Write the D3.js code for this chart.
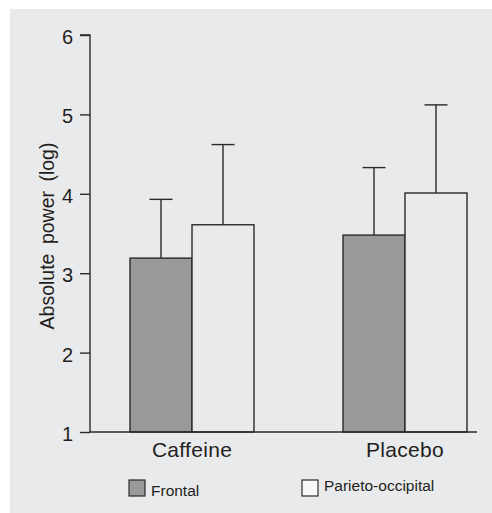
<!DOCTYPE html>
<html>
<head>
<meta charset="utf-8">
<script src="https://cdn.jsdelivr.net/npm/d3@7"></script>
<style>
  html, body { margin: 0; padding: 0; background: #ffffff; }
  svg { display: block; }
  text { font-family: "Liberation Sans", Arial, Helvetica, sans-serif; fill: #231f20; }
</style>
</head>
<body>
<svg id="chart" width="492" height="513"></svg>
<script>
// Groups and series
const categories = ["Caffeine", "Placebo"];
const series = ["Frontal", "Parieto-occipital"];
// Mean absolute power (log) per group, one array per series
const frontalMeans = [3.19, 3.48];
const parietoMeans = [3.61, 4.01];
// Upper whisker length (SD) per group
const frontalSD = [0.74, 0.85];
const parietoSD = [1.01, 1.11];
const yTicks = [1, 2, 3, 4, 5, 6];

const ink = "#2b2a2b";
const panelFill = "#e9eaec";
const fills = { "Frontal": "#98999b", "Parieto-occipital": panelFill };

const rows = categories.map((c, i) => ({
  category: c,
  bars: [
    { series: series[0], value: frontalMeans[i], sd: frontalSD[i] },
    { series: series[1], value: parietoMeans[i], sd: parietoSD[i] }
  ]
}));

const svg = d3.select("#chart");

// panel background
svg.append("rect")
  .attr("x", 10).attr("y", 9)
  .attr("width", 482).attr("height", 504)
  .attr("fill", panelFill);

const axisLeft = 90, axisRight = 477;
const y = d3.scaleLinear().domain([1, 6]).range([432, 35]);
const x0 = d3.scalePoint().domain(categories).range([192, 405]);
const x1 = d3.scaleBand().domain(series).range([-62, 62]).padding(0);

// y axis
const yAxis = d3.axisLeft(y).tickValues(yTicks).tickSize(10).tickPadding(7).tickFormat(d3.format("d"));
const gy = svg.append("g").attr("transform", `translate(${axisLeft},0)`).call(yAxis);
gy.select(".domain").attr("stroke", ink).attr("stroke-width", 1.4).attr("d", `M-10,${y(6)}H0V${y(1)}`);
gy.selectAll(".tick line").attr("stroke", ink).attr("stroke-width", 1.4);
gy.selectAll(".tick text").style("font-size", "20px").attr("fill", ink).attr("dy", "0.42em");

// bars
const groups = svg.append("g").selectAll("g.group")
  .data(rows).join("g")
  .attr("class", "group")
  .attr("transform", d => `translate(${x0(d.category)},0)`);

// whiskers (drawn behind bars so they start at the bar top)
groups.selectAll("g.err").data(d => d.bars).join("g")
  .attr("class", "err")
  .each(function (d) {
    const g = d3.select(this);
    const cx = x1(d.series) + x1.bandwidth() / 2;
    g.append("line")
      .attr("x1", cx).attr("x2", cx)
      .attr("y1", y(d.value)).attr("y2", y(d.value + d.sd))
      .attr("stroke", ink).attr("stroke-width", 1.4);
    g.append("line")
      .attr("x1", cx - 11.5).attr("x2", cx + 11.5)
      .attr("y1", y(d.value + d.sd)).attr("y2", y(d.value + d.sd))
      .attr("stroke", ink).attr("stroke-width", 1.4);
  });

groups.selectAll("rect.bar").data(d => d.bars).join("rect")
  .attr("class", "bar")
  .attr("x", d => x1(d.series))
  .attr("y", d => y(d.value))
  .attr("width", x1.bandwidth())
  .attr("height", d => y(1) - y(d.value))
  .attr("fill", d => fills[d.series])
  .attr("stroke", ink)
  .attr("stroke-width", 1.4);

// x axis baseline
svg.append("line")
  .attr("x1", axisLeft).attr("x2", axisRight)
  .attr("y1", y(1)).attr("y2", y(1))
  .attr("stroke", ink).attr("stroke-width", 1.4);

// category labels
svg.append("g").selectAll("text")
  .data(categories).join("text")
  .attr("x", d => x0(d))
  .attr("y", 457)
  .attr("text-anchor", "middle")
  .style("font-size", "21px")
  .style("letter-spacing", "0.3px")
  .text(d => d);

// y axis title
svg.append("text")
  .attr("transform", `translate(54,236) rotate(-90)`)
  .attr("text-anchor", "middle")
  .style("font-size", "19.5px")
  .style("word-spacing", "4px")
  .text("Absolute power (log)");

// legend
const legendItems = [
  { label: series[0], x: 129, y: 480, ty: 496 },
  { label: series[1], x: 302, y: 480, ty: 491 }
];
const lg = svg.append("g").selectAll("g").data(legendItems).join("g");
lg.append("rect")
  .attr("x", d => d.x).attr("y", d => d.y)
  .attr("width", 16).attr("height", 16)
  .attr("fill", d => d.label === series[0] ? fills[series[0]] : "#f8f8f8")
  .attr("stroke", ink).attr("stroke-width", 1.2);
lg.append("text")
  .attr("x", d => d.x + 22).attr("y", d => d.ty)
  .style("font-size", "15.5px")
  .text(d => d.label);
</script>
</body>
</html>
